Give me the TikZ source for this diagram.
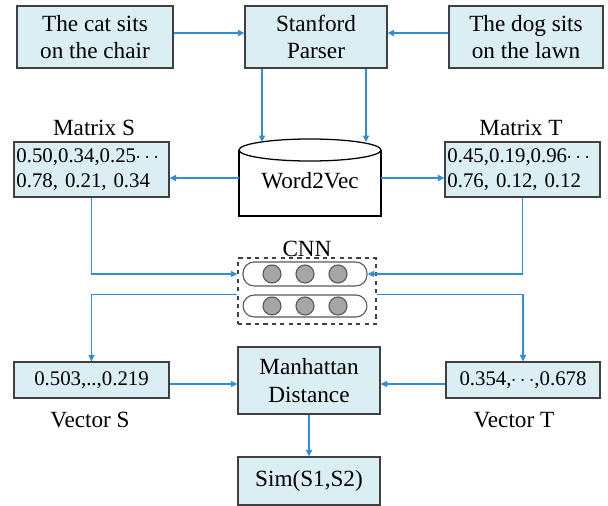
\documentclass[tikz,border=0pt]{standalone}
\usepackage{fontspec}
\setmainfont{Liberation Serif}
\usetikzlibrary{arrows.meta}
\definecolor{boxfill}{HTML}{DAEEF3}
\definecolor{boxline}{HTML}{404040}
\definecolor{flow}{HTML}{2F8DDA}
\definecolor{dotfill}{HTML}{A6A6A6}
\definecolor{dotline}{HTML}{595959}
\tikzset{
  box/.style={draw=boxline, fill=boxfill, line width=0.9pt, align=center, inner sep=0pt,
    font=\fontsize{16.5}{19.8}\selectfont},
  numbox/.style={box, font=\fontsize{14.8}{17.7}\selectfont},
  lbl/.style={font=\fontsize{16.5}{19.8}\selectfont},
  arr/.style={draw=flow, line width=0.9pt, -{Triangle[length=1.6mm,width=1.5mm]}},
  pill/.style={draw=dotline, fill=white, line width=0.8pt, rounded corners=0.28cm,
    minimum width=3.1cm, inner sep=0pt},
  dot/.style={circle, draw=dotline, fill=dotfill, line width=0.8pt, minimum size=0.45cm, inner sep=0pt}
}
\newcommand{\dotsc}{\kern-0.5pt$\cdots$}
\begin{document}
\begin{tikzpicture}[x=0.025cm, y=-0.025cm]
        \useasboundingbox (0,0) rectangle (608,506);

        % Sentences and parser
        \node[box, minimum width=3.9cm, minimum height=1.55cm] (cat) at (95,37) {The cat sits\\on the chair};
        \node[box, minimum width=3.55cm, minimum height=1.55cm] (parser) at (316,37) {Stanford\\Parser};
        \node[box, minimum width=3.85cm, minimum height=1.55cm] (dog) at (526,37) {The dog sits\\on the lawn};

        % Word2Vec store
        \coordinate (w2vnw) at (239,150);
        \coordinate (w2vse) at (381,216);
        \fill[white] (w2vnw) rectangle (w2vse);
        \draw[line width=0.9pt] (w2vnw) -- (w2vnw |- w2vse) -- (w2vse) -- (w2vse |- w2vnw);
        \draw[line width=0.9pt, fill=white] (310,150) ellipse [x radius=1.775cm, y radius=0.275cm];
        \node[lbl, minimum width=3.55cm, minimum height=1.65cm] (w2v) at (310,181) {Word2Vec};
        \coordinate (w2vtop) at (310,142);

        % Matrices
        \node[numbox, text width=3.75cm, align=left, minimum width=3.875cm, minimum height=1.375cm] (matS) at (91.5,169.5) {0.50,0.34,0.25\dotsc\\0.78, 0.21, 0.34};
        \node[numbox, text width=3.75cm, align=left, minimum width=3.875cm, minimum height=1.375cm] (matT) at (522.5,169.5) {0.45,0.19,0.96\dotsc\\0.76, 0.12, 0.12};
        \node[lbl] (matSlbl) at (94,128) {Matrix S};
        \node[lbl] (matTlbl) at (521,128) {Matrix T};

        % CNN
        \node[lbl] (cnnlbl) at (307,249) {CNN};
        \node[draw=boxline, dashed, line width=0.8pt, minimum width=3.45cm, minimum height=1.65cm] (cnn) at (307,291) {};
        \node[pill, minimum height=0.6cm] (pillA) at (305,274) {};
        \node[pill, minimum height=0.55cm] (pillB) at (305,306) {};
        \foreach \x [count=\i] in {272,305,338} {
          \node[dot] (a\i) at (\x,274) {};
          \node[dot] (b\i) at (\x,306) {};
        }

        % Vectors and distance
        \node[numbox, minimum width=3.875cm, minimum height=0.9cm] (vecS) at (91.5,380) {0.503,..,0.219};
        \node[numbox, minimum width=3.85cm, minimum height=0.9cm] (vecT) at (523,380) {0.354,\dotsc,0.678};
        \node[lbl] (vecSlbl) at (90,420) {Vector S};
        \node[lbl] (vecTlbl) at (514,420) {Vector T};
        \node[box, minimum width=3.55cm, minimum height=1.675cm] (manh) at (309,380.5) {Manhattan\\Distance};
        \node[box, minimum width=3.55cm, minimum height=1.2cm] (sim) at (309,481) {Sim(S1,S2)};

        % Connectors
        \draw[arr] (cat.east |- 0,33) -- (parser.west |- 0,33);
        \draw[arr] (dog.west |- 0,33) -- (parser.east |- 0,33);
        \draw[arr] ([xshift=-1.35cm]parser.south) -- ([xshift=-1.35cm]parser.south |- w2vtop);
        \draw[arr] ([xshift=1.25cm]parser.south) -- ([xshift=1.25cm]parser.south |- w2vtop);
        \draw[arr] (w2v.west |- 0,178) -- (matS.east |- 0,178);
        \draw[arr] (w2v.east |- 0,178) -- (matT.west |- 0,178);
        \draw[arr] (matS.south) |- (cnn.west |- pillA);
        \draw[arr] (matT.south) |- (pillA.east);
        \draw[arr] (cnn.west |- pillB.north) -| (vecS.north);
        \draw[arr] (cnn.east |- pillB.north) -| (vecT.north);
        \draw[arr] (vecS.east |- 0,384) -- (manh.west |- 0,384);
        \draw[arr] (vecT.west |- 0,384) -- (manh.east |- 0,384);
        \draw[arr] (manh) -- (sim);
    \end{tikzpicture}
\end{document}
